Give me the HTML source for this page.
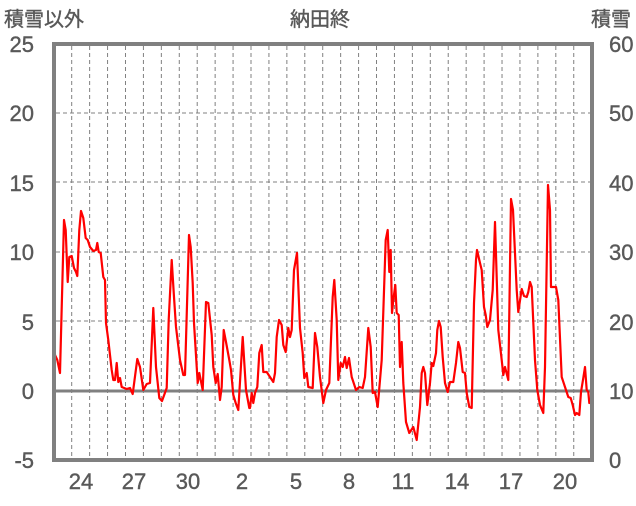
<!DOCTYPE html>
<html><head><meta charset="utf-8"><style>
body{margin:0;background:#fff;}
text{font-family:"Liberation Sans","Noto Sans CJK JP",sans-serif;fill:#595959;stroke:#595959;stroke-width:0.4;}
</style></head><body>
<svg width="636" height="501" viewBox="0 0 636 501" xmlns="http://www.w3.org/2000/svg">
<rect width="636" height="501" fill="#fff"/>
<g stroke="#808080" stroke-width="1" stroke-dasharray="4,3">
<line x1="56" y1="113" x2="591" y2="113"/>
<line x1="56" y1="182" x2="591" y2="182"/>
<line x1="56" y1="252" x2="591" y2="252"/>
<line x1="56" y1="321" x2="591" y2="321"/>
</g>
<g stroke="#808080" stroke-width="1" stroke-dasharray="4,3" id="vg"></g>
<line x1="55" y1="391" x2="592" y2="391" stroke="#808080" stroke-width="3"/>
<polyline fill="none" stroke="#ff0000" stroke-width="2.2" stroke-linejoin="round" points="
54,340 55,355 57.3,360 60,373 64,220 65.7,230 67.7,282 69.3,257 71.7,256 74,268 76,272 77.3,276 79.3,230 81,211 83.3,218 85.7,238 87.7,240 90,247 93.3,251 96,250 97.3,243 98.7,252 100.7,253 103.3,277 105,280 106,323 108.3,340 111.7,370 113.3,380 115,380 116.7,363 118.3,382 120,378 121.7,387 126.7,389 130,388 132.7,394 137.3,359 140,367 143.3,390 146.7,384 150,383 153.3,308 156,367 159.3,398 162,401 166.7,388 168.7,320 171.7,260 174,297 176,327 180,360 183.3,375 185,375 189,235 190.7,247 192.7,283 194,323 197.7,383 199.3,373 202.7,390 206,302 208.3,303 211.7,335 213.3,367 215.7,383 217.7,374 220,400 221.7,387 223.7,330 226,342 229.3,360 231,370 233.3,395 235.7,403 238.3,410 242.7,337 246,390 249.3,408 250,408 251.7,393 253.3,403 255,393 257.3,387 259.3,353 261.7,345 263.3,372 266.7,372 270,377 273.3,382 275,373 276.7,337 279,320 281.7,325 283.3,345 285.7,352 288.3,328 290,337 291.7,330 294,270 297,253 300,328 302.7,353 304.3,378 306.7,373 308.3,387 312.7,388 315,333 317.3,347 320,377 323.3,403 326,390 329.3,383 332.7,297 334.3,280 336.7,320 338.3,380 340.7,363 342.7,367 345,357 346.7,368 349,358 351.7,377 356,390 359.3,387 362.7,388 365,377 368.3,328 370.7,347 372.7,393 375,392 377.7,407 381.7,360 385.7,240 387.7,230 389.3,272 390.7,250 392,313 393.3,300 395.3,285 396.7,313 398.7,315 400,367 401.7,342 403.3,383 406,422 409.3,433 413.3,427 416.7,440 420,407 421.7,373 423.3,367 425,373 427.3,405 430,383 431.7,363 433.3,366 436,353 437.3,330 439,321 440.7,327 442.7,357 445,383 447.7,392 450,382 453.3,382 456,363 458.3,342 460,348 462.7,372 465,373 466.7,393 469.3,407 471.7,408 474,303 476,260 477,250 480,263 481.7,270 484,307 485.7,315 487.3,327 490,320 492.7,290 495,222 498.3,330 501.7,360 503.3,375 505,367 508.3,380 511,199 513,210 516.7,290 518.3,312 521.7,289 524,296 526.7,297 528.3,292 530,282 531.7,287 535,360 537.3,390 540,405 543.3,413 545,367 548,185 550,210 551,287 556,287 558.3,300 561.7,377 565,387 568.3,397 570.7,398 572.7,405 575,415 576.7,413 579.3,415 581,392 583.3,378 585,367 586.7,390 588.3,392 589.3,403 591.7,402"/>
<rect x="54" y="44" width="538" height="416" fill="none" stroke="#808080" stroke-width="4"/>
<g font-size="22" text-anchor="end">
<text x="34" y="52">25</text><text x="34" y="121">20</text><text x="34" y="191">15</text>
<text x="34" y="260">10</text><text x="34" y="330">5</text><text x="34" y="399">0</text><text x="34" y="468">-5</text>
</g>
<g font-size="22" text-anchor="start">
<text x="609" y="52">60</text><text x="609" y="121">50</text><text x="609" y="191">40</text>
<text x="609" y="260">30</text><text x="609" y="330">20</text><text x="609" y="399">10</text><text x="609" y="468">0</text>
</g>
<g font-size="22" text-anchor="middle">
<text x="81" y="489">24</text><text x="134" y="489">27</text><text x="188" y="489">30</text>
<text x="242" y="489">2</text><text x="296" y="489">5</text><text x="349" y="489">8</text>
<text x="403" y="489">11</text><text x="457" y="489">14</text><text x="511" y="489">17</text><text x="565" y="489">20</text>
</g>
<text x="4" y="26" font-size="20">積雪以外</text>
<text x="320" y="26" font-size="20" text-anchor="middle">納田終</text>
<text x="631" y="26" font-size="20" text-anchor="end">積雪</text>
</svg>
<script>
var g=document.getElementById('vg');
for(var k=0;k<29;k++){var x=71.7+17.93*k;if(x>590)break;
var l=document.createElementNS('http://www.w3.org/2000/svg','line');
l.setAttribute('x1',x);l.setAttribute('x2',x);l.setAttribute('y1',46);l.setAttribute('y2',458);g.appendChild(l);}
</script>
</body></html>
